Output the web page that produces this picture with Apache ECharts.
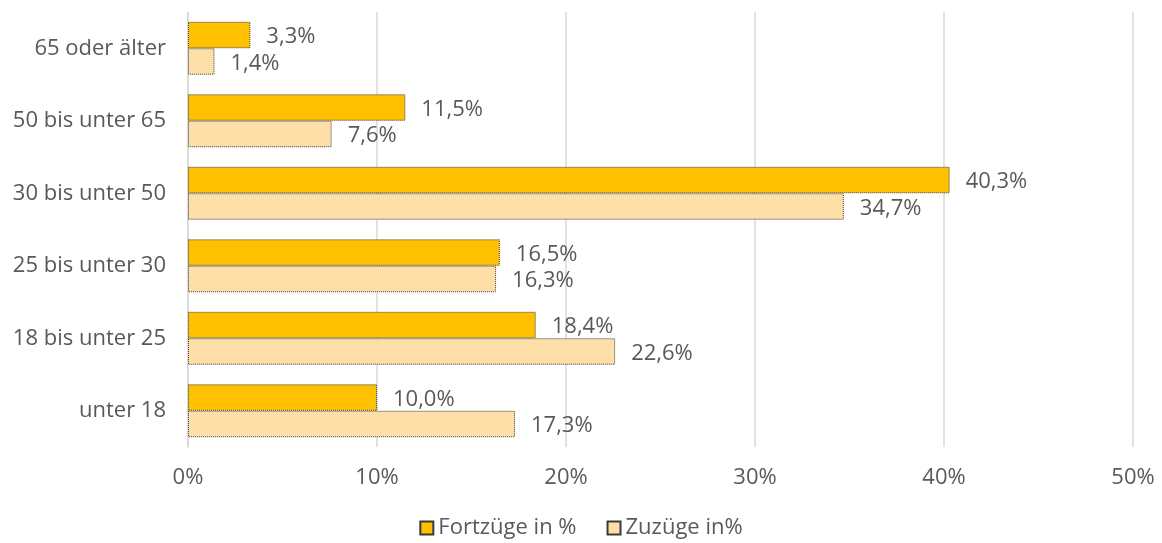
<!DOCTYPE html>
<html>
<head>
<meta charset="utf-8">
<script src="https://cdn.jsdelivr.net/npm/echarts@6/dist/echarts.min.js"></script>
<style>
  html, body { margin: 0; padding: 0; background: #fff; }
  #chart { width: 1162px; height: 543px; }
</style>
</head>
<body>
<div id="chart"></div>
<script>
// Altersgruppen, von unten nach oben
const categories = ['unter 18', '18 bis unter 25', '25 bis unter 30', '30 bis unter 50', '50 bis unter 65', '65 oder älter'];
const fortzuege = [10.0, 18.4, 16.5, 40.3, 11.5, 3.3];
const zuzuege = [17.3, 22.6, 16.3, 34.7, 7.6, 1.4];
const xTicks = [0, 10, 20, 30, 40, 50];

const fontFam = '"Open Sans", Lato, sans-serif';
const textColor = '#595959';

function fmt(v) {
  return v.toFixed(1).replace('.', ',') + '%';
}

const chart = echarts.init(document.getElementById('chart'));
chart.setOption({
  animation: false,
  textStyle: { fontFamily: fontFam },
  grid: { left: 188, right: 29, top: 12, bottom: 96 },
  legend: {
    bottom: -1,
    left: 'center',
    itemWidth: 13,
    itemHeight: 13,
    itemGap: 30,
    icon: 'rect',
    textStyle: { fontSize: 22, color: textColor, padding: [0, 0, 0, 0] },
    data: ['Fortzüge in %', 'Zuzüge in%']
  },
  xAxis: {
    type: 'value',
    min: xTicks[0],
    max: xTicks[xTicks.length - 1],
    interval: 10,
    axisLine: { show: false },
    axisTick: { show: false },
    splitLine: { lineStyle: { color: '#d9d9d9', width: 1.5 } },
    axisLabel: { formatter: '{value}%', fontSize: 22, color: textColor, margin: 20 }
  },
  yAxis: {
    type: 'category',
    data: categories,
    axisLine: { show: true, lineStyle: { color: '#d9d9d9', width: 1.5 } },
    axisTick: { show: false },
    axisLabel: { fontSize: 22, color: textColor, margin: 22 }
  },
  series: [
    {
      name: 'Fortzüge in %',
      type: 'bar',
      data: fortzuege,
      barGap: '0%',
      barCategoryGap: '27%',
      itemStyle: { color: '#FFC000', borderColor: '#3a3a3a', borderWidth: 1, borderType: 'dotted' },
      label: { show: true, position: 'right', distance: 16, offset: [0, 2], fontSize: 22, color: textColor, formatter: p => fmt(p.value) }
    },
    {
      name: 'Zuzüge in%',
      type: 'bar',
      data: zuzuege,
      itemStyle: { color: '#FEDFA8', borderColor: '#3a3a3a', borderWidth: 1, borderType: 'dotted' },
      label: { show: true, position: 'right', distance: 16, offset: [0, 2], fontSize: 22, color: textColor, formatter: p => fmt(p.value) }
    }
  ]
});
</script>
</body>
</html>
